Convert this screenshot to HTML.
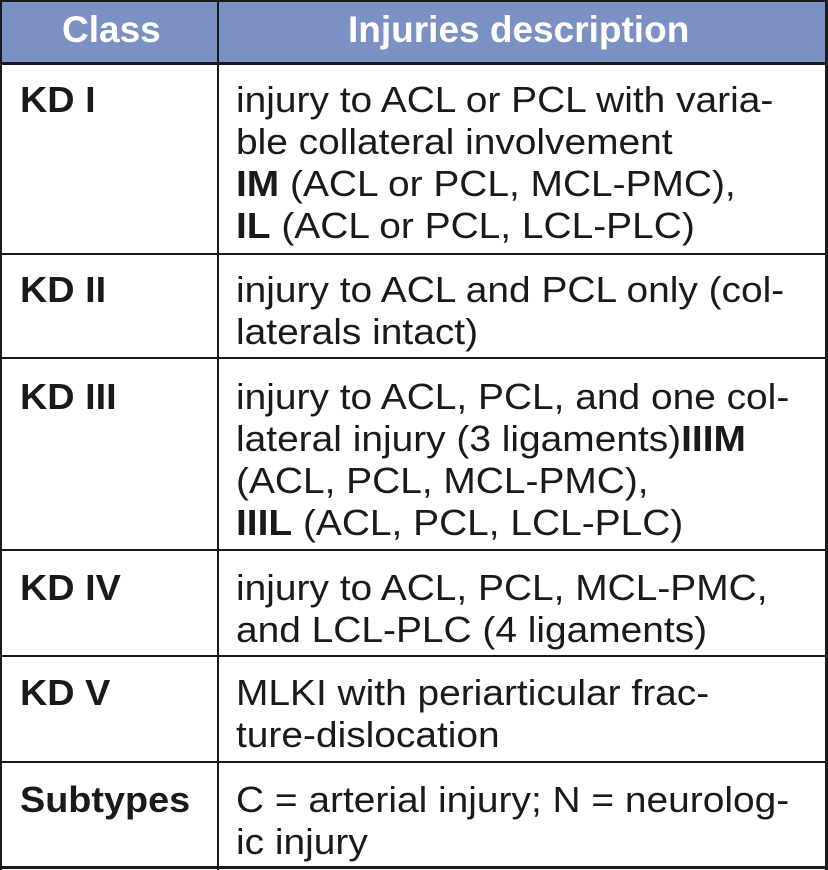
<!DOCTYPE html>
<html><head><meta charset="utf-8"><style>
body{margin:0;width:828px;height:870px;background:#fff;position:relative;overflow:hidden;font-family:"Liberation Sans",sans-serif;color:#1a1a1a}
.h{position:absolute;left:0;top:0;width:828px;height:64px;background:#7b91c4}
.l{position:absolute;background:#1a1a1a}
.t{position:absolute;font-size:36px;line-height:42px;white-space:nowrap;transform-origin:0 0;transform:scaleX(1.08)}
.c{position:absolute;left:20px;font-size:36px;font-weight:bold;line-height:42px;transform-origin:0 0;transform:scaleX(1.05)}
.hd{position:absolute;top:8px;color:#fff;font-weight:bold;font-size:37px;line-height:44px;white-space:nowrap}
</style></head><body>
<div class="h"></div>
<div class="hd" style="left:62px">Class</div>
<div class="hd" style="left:348px">Injuries description</div>
<div class="l" style="left:0;top:0;width:828px;height:2px"></div>
<div class="l" style="left:0;top:62px;width:828px;height:3px"></div>
<div class="l" style="left:0;top:253px;width:828px;height:2px"></div>
<div class="l" style="left:0;top:357px;width:828px;height:2px"></div>
<div class="l" style="left:0;top:549px;width:828px;height:2px"></div>
<div class="l" style="left:0;top:655px;width:828px;height:2px"></div>
<div class="l" style="left:0;top:761px;width:828px;height:2px"></div>
<div class="l" style="left:0;top:866px;width:828px;height:3px"></div>
<div class="l" style="left:0;top:0;width:2px;height:870px"></div>
<div class="l" style="left:825px;top:0;width:3px;height:870px"></div>
<div class="l" style="left:217px;top:0;width:2px;height:870px"></div>

<div class="c" style="top:79px">KD I</div>
<div class="t" style="left:236px;top:79px">injury to ACL or PCL with varia-<br>ble collateral involvement<br><b>IM</b> (ACL or PCL, MCL-PMC),<br><b>IL</b> (ACL or PCL, LCL-PLC)</div>

<div class="c" style="top:269px">KD II</div>
<div class="t" style="left:236px;top:269px">injury to ACL and PCL only (col-<br>laterals intact)</div>

<div class="c" style="top:376px">KD III</div>
<div class="t" style="left:236px;top:376px">injury to ACL, PCL, and one col-<br>lateral injury (3 ligaments)<b>IIIM</b><br>(ACL, PCL, MCL-PMC),<br><b>IIIL</b> (ACL, PCL, LCL-PLC)</div>

<div class="c" style="top:567px">KD IV</div>
<div class="t" style="left:236px;top:567px">injury to ACL, PCL, MCL-PMC,<br>and LCL-PLC (4 ligaments)</div>

<div class="c" style="top:672px">KD V</div>
<div class="t" style="left:236px;top:672px">MLKI with periarticular frac-<br>ture-dislocation</div>

<div class="c" style="top:779px">Subtypes</div>
<div class="t" style="left:236px;top:779px">C = arterial injury; N = neurolog-<br>ic injury</div>
</body></html>
